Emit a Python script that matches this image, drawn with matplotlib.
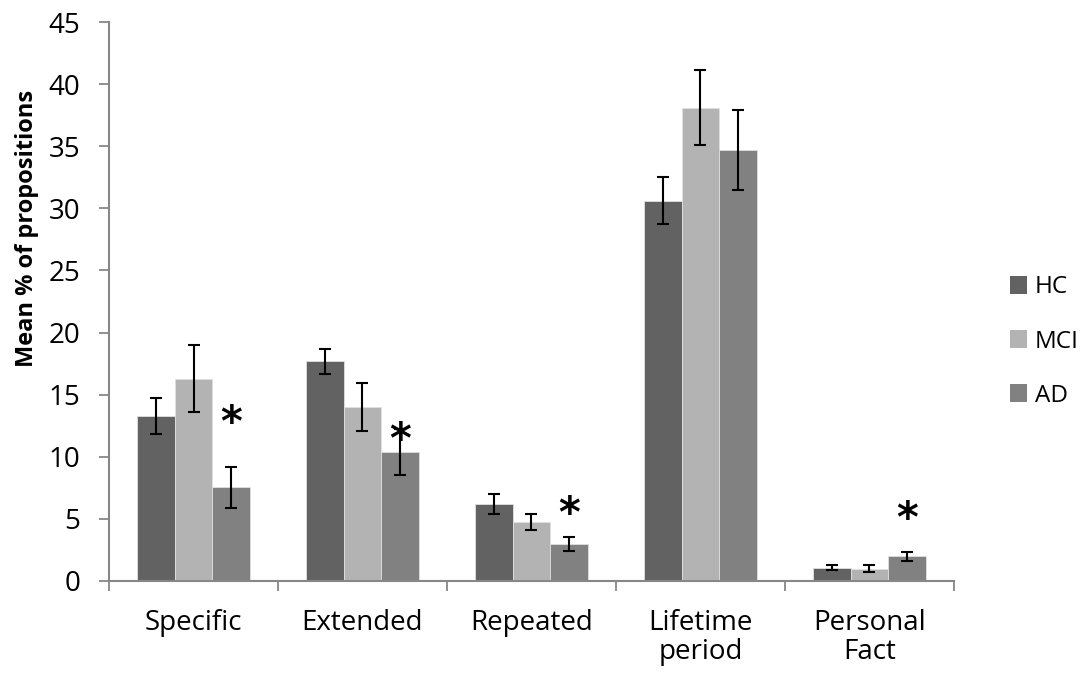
import numpy as np
import matplotlib.pyplot as plt
from matplotlib.patches import Patch

plt.rcParams['font.family'] = ['Open Sans', 'DejaVu Sans']

categories = ["Specific", "Extended", "Repeated", "Lifetime\nperiod", "Personal\nFact"]
groups = ["HC", "MCI", "AD"]

hc_mean = [13.3, 17.7, 6.2, 30.6, 1.07]
mci_mean = [16.3, 14.0, 4.75, 38.1, 1.0]
ad_mean = [7.55, 10.35, 3.0, 34.7, 2.0]

hc_err = [1.45, 1.0, 0.8, 1.9, 0.18]
mci_err = [2.7, 1.9, 0.68, 3.0, 0.25]
ad_err = [1.65, 1.85, 0.57, 3.2, 0.37]

# significance markers placed above the AD bars
star_y = [12.6, 11.3, 5.3, None, 4.9]

colors = ["#626262", "#b3b3b3", "#818181"]
axis_gray = "#878787"

fig = plt.figure(figsize=(10.89, 6.75), dpi=100)
ax = fig.add_axes([0.1001, 0.1393, 0.7759, 0.8281])

x = np.arange(len(categories))
width = 0.222
means = [hc_mean, mci_mean, ad_mean]
errs = [hc_err, mci_err, ad_err]

for i, (m, e, c) in enumerate(zip(means, errs, colors)):
    pos = x + (i - 1) * width
    ax.bar(pos, m, width, color=c, edgecolor="#e0e0e0", linewidth=0.6, zorder=2)
    ax.errorbar(pos, m, yerr=e, fmt="none", ecolor="black", elinewidth=1.5,
                capsize=4.2, capthick=1.5, zorder=3)

for xi, sy in zip(x, star_y):
    if sy is not None:
        ax.text(xi + width, sy, "*", ha="center", va="center", fontsize=30,
                fontweight="bold", family="DejaVu Sans")

ax.set_xlim(-0.5, len(categories) - 0.5)
ax.set_ylim(0, 45)
ax.set_yticks(np.arange(0, 46, 5))
ax.set_xticks(np.arange(-0.5, len(categories), 1.0))
ax.set_xticklabels([])
ax.set_xticks(x, minor=True)
ax.set_xticklabels(categories, minor=True, fontsize=20, linespacing=1.05)
ax.tick_params(axis="x", which="minor", length=0, pad=20)
ax.tick_params(axis="x", which="major", length=7.5, width=1.3, color=axis_gray)
ax.tick_params(axis="y", length=7.5, width=1.3, color=axis_gray, labelsize=20, pad=13)

for side in ["top", "right"]:
    ax.spines[side].set_visible(False)
for side in ["left", "bottom"]:
    ax.spines[side].set_color(axis_gray)
    ax.spines[side].set_linewidth(1.5)

fig.text(0.025, 0.661, "Mean % of propositions", rotation=90, ha="center",
         va="center", fontsize=17, fontweight="bold")

handles = [Patch(facecolor=c, edgecolor="none") for c in colors]
fig.legend(handles, groups, loc="center left", bbox_to_anchor=(0.927, 0.494),
           frameon=False, fontsize=17.5, handlelength=0.74, handleheight=0.74,
           handletextpad=0.3, labelspacing=1.24, borderpad=0, borderaxespad=0)

fig.savefig("out.png", dpi=100)
